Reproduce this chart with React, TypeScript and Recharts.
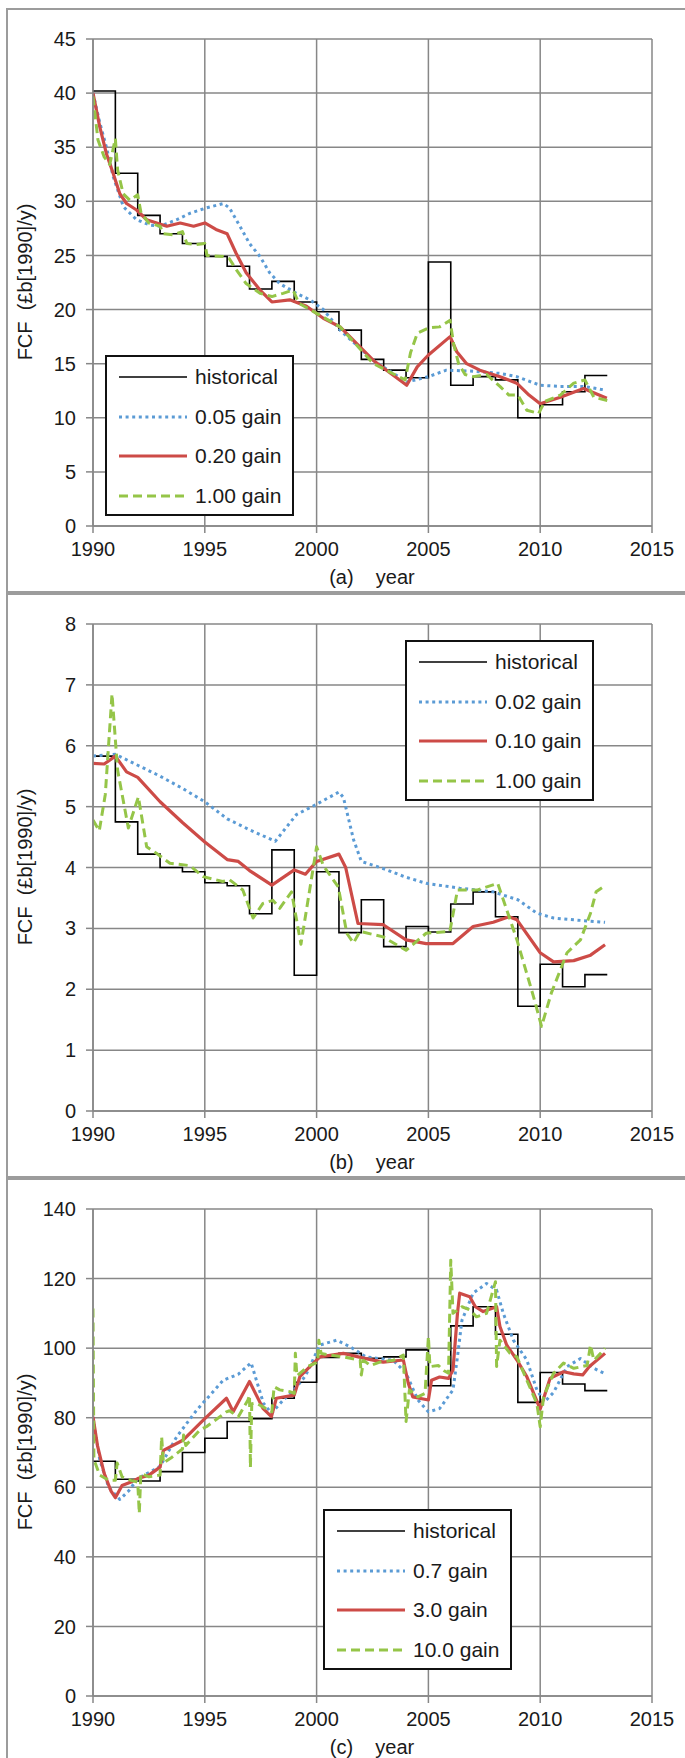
import React from 'react';
import { LineChart, Line, XAxis, YAxis, CartesianGrid, Legend } from 'recharts';

// years of the historical step series (last entry closes the final step)
const YEARS = [
  1990, 1991, 1992, 1993, 1994, 1995, 1996, 1997, 1998, 1999, 2000, 2001,
  2002, 2003, 2004, 2005, 2006, 2007, 2008, 2009, 2010, 2011, 2012, 2013,
];
const X_TICKS = [1990, 1995, 2000, 2005, 2010, 2015];

const Y_TICKS_A = [0, 5, 10, 15, 20, 25, 30, 35, 40, 45];
const Y_TICKS_B = [0, 1, 2, 3, 4, 5, 6, 7, 8];
const Y_TICKS_C = [0, 20, 40, 60, 80, 100, 120, 140];

const NAMES_A = ['historical', '0.05 gain', '0.20 gain', '1.00 gain'];
const NAMES_B = ['historical', '0.02 gain', '0.10 gain', '1.00 gain'];
const NAMES_C = ['historical', '0.7 gain', '3.0 gain', '10.0 gain'];

// (a)
const HIST_A = [40.2, 32.6, 28.7, 27.0, 26.1, 24.9, 24.0, 21.9, 22.6, 20.7, 19.8, 18.1, 15.4, 14.4, 13.7, 24.4, 13.0, 13.8, 13.5, 10.0, 11.2, 12.4, 13.9];
const BLUE_A: [number, number][] = [
  [1990, 40], [1990.3, 37.3], [1990.6, 35], [1990.9, 32.3], [1991.36, 29.5], [1991.95, 28.3],
  [1992.55, 27.8], [1993, 27.7], [1993.74, 28.3], [1994.34, 28.9], [1995.08, 29.4], [1995.83, 29.8],
  [1996.1, 29.4], [1996.57, 27.7], [1997, 26.1], [1997.47, 24.9], [1997.9, 23.4], [1998.35, 22.4],
  [1999.1, 21.5], [1999.7, 20.9], [2000.3, 20.0], [2001.05, 18.1], [2002.54, 15.3], [2004.03, 13.3],
  [2005, 13.8], [2005.8, 14.4], [2007, 14.3], [2008.2, 14.1], [2008.95, 13.8], [2010, 13.0],
  [2010.9, 12.9], [2011.94, 12.9], [2012.8, 12.6],
];
const RED_A: [number, number][] = [
  [1990, 40], [1990.3, 36.9], [1990.6, 34.4], [1990.9, 32.6], [1991.2, 30.7], [1991.5, 29.8],
  [1991.95, 29.2], [1992.4, 28.3], [1992.85, 28], [1993.3, 27.7], [1993.9, 28], [1994.5, 27.7],
  [1995, 28], [1995.5, 27.4], [1996, 27], [1996.4, 25.2], [1996.85, 23.4], [1997.47, 21.8],
  [1998, 20.7], [1998.8, 20.9], [1999.55, 20.3], [2000.3, 19.2], [2001.05, 18.4], [2002.54, 15.3],
  [2004.03, 13], [2004.5, 14.7], [2005, 15.8], [2005.97, 17.5], [2006.27, 16.1], [2006.71, 15],
  [2007.3, 14.4], [2008.2, 13.8], [2008.95, 13.2], [2009.5, 12.1], [2010, 11.3], [2010.9, 11.9],
  [2011.94, 12.7], [2012.98, 11.8],
];
const GREEN_A: [number, number][] = [
  [1990, 39.7], [1990.22, 35.7], [1990.5, 34.1], [1990.75, 33.4], [1991, 35.8], [1991.1, 32.9],
  [1991.35, 30.7], [1991.65, 30.1], [1992, 30.6], [1992.15, 28.9], [1992.5, 28], [1993, 27.7],
  [1993.15, 27], [1993.6, 26.9], [1994, 27.2], [1994.2, 26.1], [1994.6, 26], [1995, 26.1],
  [1995.1, 25], [1995.83, 24.9], [1996.1, 24.7], [1996.4, 23.7], [1996.85, 22.4], [1997.47, 21.5],
  [1998, 21.2], [1998.5, 21.5], [1998.95, 21.8], [1999.2, 20.6], [2000, 19.65], [2001.05, 18.4],
  [2002.54, 15], [2003.96, 13.5], [2004.2, 16], [2004.5, 17.8], [2005, 18.3], [2005.5, 18.4],
  [2005.97, 19], [2006.12, 16.9], [2006.35, 15], [2006.64, 14], [2007, 13.8], [2007.6, 14],
  [2008.2, 12.9], [2008.6, 12.1], [2009, 12.1], [2009.4, 10.7], [2009.93, 10.4], [2010.2, 11.5],
  [2010.9, 12.1], [2011.5, 13.2], [2012, 13.5], [2012.4, 11.9], [2013, 11.6],
];

// (b)
const HIST_B = [5.83, 4.75, 4.22, 4.0, 3.93, 3.75, 3.7, 3.24, 4.29, 2.23, 3.93, 2.93, 3.47, 2.7, 3.03, 2.94, 3.4, 3.6, 3.19, 1.72, 2.41, 2.04, 2.24];
const BLUE_B: [number, number][] = [
  [1990, 5.83], [1991, 5.86], [1992, 5.68], [1993, 5.5], [1994, 5.3], [1995, 5.08], [1996, 4.8],
  [1997, 4.62], [1998.15, 4.43], [1999.1, 4.87], [1999.9, 5.02], [2001, 5.24], [2001.2, 5.15],
  [2001.65, 4.46], [2002, 4.1], [2003, 3.98], [2004, 3.84], [2004.9, 3.74], [2006.4, 3.66],
  [2007.9, 3.6], [2009, 3.47], [2009.85, 3.25], [2010.6, 3.17], [2011.5, 3.14], [2012.9, 3.1],
];
const RED_B: [number, number][] = [
  [1990, 5.71], [1990.5, 5.7], [1991, 5.83], [1991.5, 5.57], [1992, 5.48], [1993, 5.08],
  [1994, 4.74], [1995, 4.42], [1996, 4.13], [1996.5, 4.1], [1997, 3.95], [1998, 3.71],
  [1999, 3.96], [1999.5, 3.89], [2000, 4.1], [2001, 4.22], [2001.3, 4.0], [2001.85, 3.08],
  [2002.98, 3.06], [2004, 2.81], [2004.9, 2.75], [2006.1, 2.75], [2007, 3.03], [2007.9, 3.1],
  [2008.6, 3.19], [2008.96, 3.14], [2010, 2.6], [2010.6, 2.45], [2011.5, 2.47], [2012.25, 2.56],
  [2012.9, 2.73],
];
const GREEN_B: [number, number][] = [
  [1990, 4.78], [1990.28, 4.6], [1990.55, 5.2], [1990.85, 6.85], [1991.1, 5.6], [1991.58, 4.65],
  [1992.03, 5.16], [1992.4, 4.34], [1992.85, 4.23], [1993.44, 4.07], [1994.34, 4.03], [1994.93, 3.85],
  [1995.8, 3.77], [1996.1, 3.8], [1996.7, 3.63], [1997.16, 3.17], [1997.6, 3.41], [1998.05, 3.46],
  [1998.35, 3.33], [1998.88, 3.6], [1999.3, 2.74], [2000, 4.34], [2000.3, 4.03], [2000.97, 3.68],
  [2001.35, 2.92], [2001.65, 2.76], [2001.94, 2.95], [2002.98, 2.86], [2004, 2.64], [2004.9, 2.92],
  [2005.96, 2.95], [2006.3, 3.63], [2007.2, 3.63], [2008.1, 3.74], [2008.96, 2.81], [2009.7, 1.88],
  [2010.06, 1.39], [2010.5, 1.94], [2011.2, 2.6], [2011.8, 2.81], [2012.25, 3.25], [2012.5, 3.6],
  [2012.9, 3.7],
];

// (c)
const HIST_C = [67.5, 62.3, 61.8, 64.5, 70.0, 74.1, 78.9, 79.7, 85.6, 90.2, 97.3, 98.5, 97.1, 97.5, 99.5, 89.2, 106.4, 111.9, 104.0, 84.4, 93.0, 89.7, 87.8];
const BLUE_C: [number, number][] = [
  [1990, 80], [1990.3, 68], [1990.7, 60], [1991.2, 56.5], [1991.6, 59], [1992, 62.5], [1993, 66],
  [1993.74, 74.5], [1994.64, 82.2], [1995.83, 90.8], [1996.5, 92.5], [1997.07, 95.8], [1997.62, 84.2],
  [1997.98, 81.3], [1998.5, 85], [1999, 88], [1999.5, 92], [2000.15, 100.9], [2000.9, 102.3],
  [2001.5, 100.4], [2002.2, 97.5], [2003.43, 96.5], [2004, 92.8], [2004.53, 85.1], [2005, 81.7],
  [2005.5, 82.6], [2006.1, 88], [2006.3, 97.5], [2006.5, 108], [2007, 115.8], [2007.6, 118.6],
  [2008.05, 116.7], [2008.35, 110], [2008.8, 102.3], [2009.4, 96.6], [2009.85, 88], [2010.2, 84.6],
  [2010.6, 87.3], [2011.2, 94.7], [2011.8, 97], [2012.4, 94.2], [2012.85, 92.8],
];
const RED_C: [number, number][] = [
  [1990, 80.3], [1990.2, 72], [1990.5, 64], [1990.8, 59], [1991, 57], [1991.3, 60.5], [1991.7, 61.5],
  [1992, 62.5], [1992.5, 63.5], [1993, 65.8], [1993.15, 70.6], [1994.04, 73.6], [1994.93, 79.3],
  [1995.97, 85.6], [1996.27, 81.7], [1997, 90.4], [1997.6, 82.7], [1997.98, 80.3], [1998.2, 85.6],
  [1999, 86.5], [1999.25, 91.8], [1999.7, 94.7], [2000.15, 97.5], [2001.2, 98.5], [2002.2, 97],
  [2002.98, 96], [2003.88, 96.6], [2004.1, 89.9], [2004.3, 86], [2004.6, 85.6], [2005, 85.1],
  [2005.14, 90.8], [2005.5, 91.7], [2005.9, 91.3], [2006.1, 93.7], [2006.3, 110], [2006.4, 115.8],
  [2006.85, 114.8], [2007.1, 111.9], [2007.45, 110.5], [2008.05, 111.9], [2008.2, 106.2],
  [2008.5, 100.9], [2008.96, 96.6], [2009.4, 91.8], [2010, 82.5], [2010.44, 91.3], [2011.04, 93.2],
  [2011.5, 92.6], [2011.9, 92.3], [2012.2, 94.7], [2012.9, 98.5],
];
const GREEN_C: [number, number][] = [
  [1990, 111.4], [1990.04, 68], [1990.3, 63.5], [1990.7, 62], [1991, 62], [1991.08, 67], [1991.3, 63],
  [1991.7, 62], [1992, 61.5], [1992.07, 52.5], [1992.14, 64], [1992.5, 63], [1993, 63.5],
  [1993.07, 74.5], [1993.15, 67], [1993.5, 68.5], [1994, 71], [1994.05, 75], [1994.15, 72],
  [1994.78, 76.5], [1995.07, 77.4], [1995.97, 81.7], [1996.1, 82], [1996.5, 80.3], [1996.93, 85.1],
  [1997, 86.5], [1997.04, 65.7], [1997.1, 84], [1997.3, 84.2], [1997.75, 82.6], [1998, 81.7],
  [1998.1, 88.9], [1998.35, 88], [1998.8, 87.5], [1999, 87], [1999.05, 98.5], [1999.12, 92],
  [1999.6, 94.7], [2000.05, 96], [2000.1, 102.3], [2000.2, 98.5], [2000.6, 98], [2001.2, 97.5],
  [2001.95, 96.5], [2002, 92.3], [2002.1, 96.5], [2002.4, 95], [2002.83, 96], [2003.43, 96.5],
  [2003.88, 98], [2004, 78.9], [2004.15, 88], [2004.53, 86], [2004.85, 87], [2005, 103.3],
  [2005.07, 94.7], [2005.45, 95], [2005.7, 93.5], [2005.9, 92.8], [2006, 125.3], [2006.1, 110],
  [2006.5, 111.9], [2006.85, 111], [2007.15, 109], [2007.6, 110], [2008, 119.1], [2008.05, 94.7],
  [2008.2, 102.3], [2008.65, 98.5], [2008.96, 97.5], [2009.4, 90.8], [2009.85, 84.1], [2010, 77.4],
  [2010.15, 86], [2010.6, 92.8], [2011.04, 95.7], [2011.5, 94.2], [2012.1, 95], [2012.25, 100.9],
  [2012.4, 96.5], [2012.7, 98.5], [2012.9, 100],
];

const Y_TITLE = 'FCF  (£b[1990]/y)';

const FONT = '"Liberation Sans", Arial, sans-serif';
const GRID = '#878787';
const TEXT = '#1a1a1a';

const STYLES = [
  { stroke: '#000000', width: 1.6, dash: undefined },
  { stroke: '#5b9bd5', width: 3, dash: '3 3.6' },
  { stroke: '#cd4b47', width: 3.2, dash: undefined },
  { stroke: '#95c548', width: 3, dash: '9 5' },
];

const toPoints = (pts: [number, number][]) => pts.map(([x, y]) => ({ x, y }));

const AxisText = ({ tx, ty, vertical, caption }: any) => (
  <text
    x={tx}
    y={ty}
    transform={vertical ? `rotate(-90 ${tx} ${ty})` : undefined}
    textAnchor="middle"
    fontFamily={FONT}
    fontSize={20}
    fill={TEXT}
    style={{ whiteSpace: 'pre' }}
  >
    {caption}
  </text>
);

const LegendBox = ({ names }: { names: string[] }) => (
  <div
    style={{
      position: 'relative',
      width: 189,
      height: 161,
      boxSizing: 'border-box',
      border: '2px solid #111',
      background: '#fff',
      fontFamily: FONT,
      fontSize: 21,
      color: TEXT,
    }}
  >
    {names.map((name, i) => (
      <div key={name} style={{ position: 'absolute', left: 0, top: 8 + i * 39.7, height: 24, width: 185 }}>
        <svg width={70} height={8} style={{ position: 'absolute', left: 12, top: 8 }}>
          <line
            x1={0}
            y1={4}
            x2={68}
            y2={4}
            stroke={STYLES[i].stroke}
            strokeWidth={STYLES[i].width}
            strokeDasharray={STYLES[i].dash}
          />
        </svg>
        <span style={{ position: 'absolute', left: 88, top: 0, lineHeight: '24px', whiteSpace: 'nowrap' }}>
          {name}
        </span>
      </div>
    ))}
  </div>
);

type PanelProps = {
  top: number;
  tag: string;
  hist: number[];
  curves: [number, number][][];
  names: string[];
  yTicks: number[];
  legendAt: { left: number; top: number };
};

function Panel({ top, tag, hist, curves, names, yTicks, legendAt }: PanelProps) {
  const histPts = YEARS.map((x, i) => ({ x, y: hist[Math.min(i, hist.length - 1)] }));
  const tick = { fill: TEXT, fontSize: 20, fontFamily: FONT };
  return (
    <div style={{ position: 'absolute', left: 0, top, width: 685, height: 593 }}>
      <div
        style={{
          position: 'absolute',
          left: 6,
          top: 8,
          width: 720,
          height: 585,
          boxSizing: 'border-box',
          border: '2px solid #9c9c9c',
          background: '#fff',
        }}
      />
      <div style={{ position: 'absolute', left: 0, top: 0 }}>
        <LineChart width={685} height={593} margin={{ top: 39, right: 33, bottom: 37, left: 33 }}>
          <CartesianGrid stroke={GRID} strokeWidth={1.5} />
          <XAxis
            type="number"
            dataKey="x"
            domain={[1990, 2015]}
            ticks={X_TICKS}
            interval={0}
            allowDataOverflow
            height={30}
            tick={tick}
            tickSize={7}
            tickMargin={9}
            stroke={GRID}
            strokeWidth={1.5}
            label={<AxisText tx={372} ty={584} caption={`(${tag})    year`} />}
          />
          <YAxis
            type="number"
            dataKey="y"
            domain={[yTicks[0], yTicks[yTicks.length - 1]]}
            ticks={yTicks}
            interval={0}
            allowDataOverflow
            width={60}
            tick={tick}
            tickSize={7}
            tickMargin={10}
            stroke={GRID}
            strokeWidth={1.5}
            label={<AxisText tx={32} ty={282} vertical caption={Y_TITLE} />}
          />
          <Legend
            layout="horizontal"
            verticalAlign="middle"
            align="center"
            wrapperStyle={{ left: legendAt.left, top: legendAt.top, width: 189, height: 161 }}
            content={() => <LegendBox names={names} />}
          />
          <Line
            name={names[0]}
            data={histPts}
            dataKey="y"
            type="stepAfter"
            stroke={STYLES[0].stroke}
            strokeWidth={STYLES[0].width}
            dot={false}
            isAnimationActive={false}
          />
          {curves.map((c, k) => (
            <Line
              key={names[k + 1]}
              name={names[k + 1]}
              data={toPoints(c)}
              dataKey="y"
              type="linear"
              stroke={STYLES[k + 1].stroke}
              strokeWidth={STYLES[k + 1].width}
              strokeDasharray={STYLES[k + 1].dash}
              strokeLinejoin="round"
              dot={false}
              isAnimationActive={false}
            />
          ))}
        </LineChart>
      </div>
    </div>
  );
}

export default function App() {
  return (
    <div
      style={{
        position: 'absolute',
        left: 0,
        top: 0,
        width: 685,
        height: 1758,
        overflow: 'hidden',
        background: '#fff',
      }}
    >
      <Panel
        top={0}
        tag="a"
        hist={HIST_A}
        curves={[BLUE_A, RED_A, GREEN_A]}
        names={NAMES_A}
        yTicks={Y_TICKS_A}
        legendAt={{ left: 105, top: 355 }}
      />
      <Panel
        top={585}
        tag="b"
        hist={HIST_B}
        curves={[BLUE_B, RED_B, GREEN_B]}
        names={NAMES_B}
        yTicks={Y_TICKS_B}
        legendAt={{ left: 405, top: 55 }}
      />
      <Panel
        top={1170}
        tag="c"
        hist={HIST_C}
        curves={[BLUE_C, RED_C, GREEN_C]}
        names={NAMES_C}
        yTicks={Y_TICKS_C}
        legendAt={{ left: 323, top: 339 }}
      />
    </div>
  );
}
